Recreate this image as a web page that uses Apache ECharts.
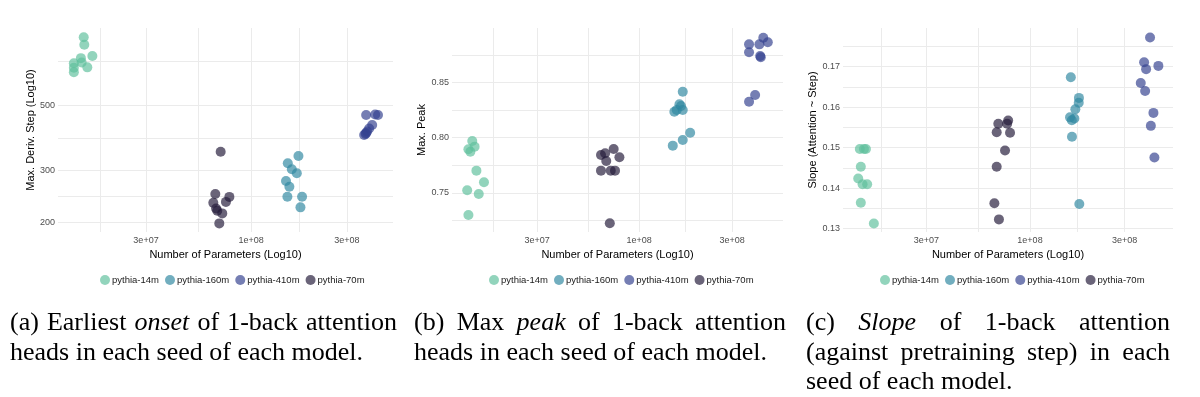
<!DOCTYPE html>
<html lang="en">
<head>
<meta charset="UTF-8">
<title>1-back attention heads per seed</title>
<script src="https://cdn.jsdelivr.net/npm/echarts@6/dist/echarts.min.js"></script>
<style>
    body {
        margin: 0;
        background: #fff;
    }

    #root {
        position: relative;
        width: 1200px;
        height: 397px;
    }

    #chart {
        position: absolute;
        left: 0;
        top: 0;
        width: 1200px;
        height: 397px;
    }

    .cap {
        position: absolute;
        top: 307px;
        font-family: "Liberation Serif", serif;
        font-size: 26px;
        line-height: 29.5px;
        color: #000;
    }

    .cap .j {
        text-align: justify;
        text-align-last: justify;
    }
</style>
</head>
<body>
<div id="root">
    <div id="chart"></div>
    <div class="cap" style="left:10px;width:387px">
        <div class="j">(a) Earliest <i>onset</i> of 1-back attention</div>
        <div>heads in each seed of each model.</div>
    </div>
    <div class="cap" style="left:414px;width:372px">
        <div class="j">(b) Max <i>peak</i> of 1-back attention</div>
        <div>heads in each seed of each model.</div>
    </div>
    <div class="cap" style="left:806px;width:364px">
        <div class="j">(c) <i>Slope</i> of 1-back attention</div>
        <div class="j">(against pretraining step) in each</div>
        <div>seed of each model.</div>
    </div>
</div>
<script>
    var modelNames = ['pythia-14m', 'pythia-160m', 'pythia-410m', 'pythia-70m'];
    var modelColors = ['#5fc09c', '#2f87a0', '#33418f', '#231a3a'];

    // (a) earliest onset: [number of parameters (jittered), max. deriv. step]
    var onset14m = [[1.469e7, 849], [1.479e7, 800], [1.622e7, 733], [1.422e7, 721], [1.312e7, 693],
        [1.435e7, 697], [1.531e7, 671], [1.312e7, 669], [1.312e7, 646]];
    var onset160m = [[1.722e8, 336], [1.524e8, 317.5], [1.596e8, 302.9], [1.690e8, 293.7], [1.493e8, 276.5],
        [1.552e8, 264.5], [1.517e8, 244.6], [1.795e8, 244.6], [1.762e8, 225.2]];
    var onset410m = [[3.741e8, 463], [4.150e8, 464.8], [4.285e8, 463], [4.009e8, 428], [3.873e8, 416.6],
        [3.784e8, 406.8], [3.715e8, 399], [3.656e8, 396], [3.741e8, 402]];
    var onset70m = [[7.06e7, 347.5], [6.64e7, 249.8], [7.80e7, 244.3], [6.49e7, 233.2], [7.50e7, 235],
        [6.70e7, 223.3], [6.79e7, 219.3], [7.19e7, 214.8], [6.95e7, 198.7]];

    // (b) max peak
    var peak14m = [[1.396e7, 0.797], [1.334e7, 0.7895], [1.365e7, 0.7873], [1.435e7, 0.7919], [1.466e7, 0.7702],
        [1.603e7, 0.7597], [1.315e7, 0.7524], [1.507e7, 0.7491], [1.334e7, 0.7301]];
    var peak160m = [[1.675e8, 0.8416], [1.611e8, 0.8302], [1.641e8, 0.8287], [1.560e8, 0.825], [1.675e8, 0.825],
        [1.517e8, 0.8235], [1.828e8, 0.8045], [1.675e8, 0.7979], [1.489e8, 0.7928]];
    var peak410m = [[4.335e8, 0.8904], [3.664e8, 0.8844], [4.140e8, 0.8844], [4.571e8, 0.8863], [3.664e8, 0.8772],
        [4.178e8, 0.8739], [4.207e8, 0.8727], [3.936e8, 0.8386], [3.664e8, 0.8325]];
    var peak70m = [[6.38e7, 0.7844], [6.70e7, 0.7859], [7.41e7, 0.7898], [7.93e7, 0.7823], [6.79e7, 0.7789],
        [6.38e7, 0.7702], [7.16e7, 0.7702], [7.53e7, 0.7702], [7.08e7, 0.7226]];

    // (c) slope of attention against step
    var slope14m = [[1.384e7, 0.1497], [1.452e7, 0.1497], [1.486e7, 0.1497], [1.400e7, 0.1453], [1.358e7, 0.1424],
        [1.429e7, 0.1410], [1.507e7, 0.1410], [1.400e7, 0.1364], [1.629e7, 0.1313]];
    var slope160m = [[1.607e8, 0.1674], [1.766e8, 0.1623], [1.762e8, 0.1611], [1.694e8, 0.1595], [1.592e8, 0.1575],
        [1.675e8, 0.1572], [1.626e8, 0.1568], [1.629e8, 0.1527], [1.774e8, 0.1361]];
    var slope410m = [[4.036e8, 0.1772], [3.767e8, 0.1711], [3.855e8, 0.1694], [4.446e8, 0.1702], [3.622e8, 0.1660],
        [3.811e8, 0.1640], [4.198e8, 0.1586], [4.074e8, 0.1554], [4.246e8, 0.1476]];
    var slope70m = [[6.92e7, 0.1559], [7.76e7, 0.1567], [7.67e7, 0.1559], [6.79e7, 0.1538], [7.93e7, 0.1537],
        [7.48e7, 0.1493], [6.79e7, 0.1453], [6.61e7, 0.1363], [6.97e7, 0.1323]];

    // tick labels and grid breaks
    var xMajorTicks = [3e7, 1e8, 3e8];
    var xMinorTicks = [1.78e7, 5.48e7, 1.734e8];
    var onsetMajorTicks = [200, 300, 500];
    var onsetMinorTicks = [246, 387, 705];
    var peakMajorTicks = [0.75, 0.80, 0.85];
    var peakMinorTicks = [0.725, 0.775, 0.825, 0.875];
    var slopeMajorTicks = [0.13, 0.14, 0.15, 0.16, 0.17];
    var slopeMinorTicks = [0.135, 0.145, 0.155, 0.165, 0.175];

    var sans = 'Liberation Sans';
    var gridColor = '#ebebeb';

    function log10(v) { return Math.log10(v); }

    function sci(v) {
        var raw = Math.pow(10, v);
        var e = Math.floor(Math.log10(raw) + 1e-9);
        var m = Math.round(raw / Math.pow(10, e));
        return m + 'e+' + (e < 10 ? '0' + e : e);
    }

    function xAxis(gridIndex, range) {
        return {
            type: 'value',
            gridIndex: gridIndex,
            min: log10(range[0]),
            max: log10(range[1]),
            name: 'Number of Parameters (Log10)',
            nameLocation: 'middle',
            nameGap: 14,
            nameTextStyle: { fontFamily: sans, fontSize: 11, color: '#000' },
            axisLine: { show: false },
            axisTick: { show: false, customValues: xMajorTicks.concat(xMinorTicks).map(log10) },
            splitLine: { show: true, lineStyle: { color: gridColor, width: 1 } },
            axisLabel: {
                customValues: xMajorTicks.map(log10),
                formatter: sci,
                margin: 4,
                fontFamily: sans, fontSize: 9, color: '#4d4d4d'
            }
        };
    }

    function yAxis(gridIndex, name, nameGap, range, major, minor, isLog, fmt) {
        var tr = isLog ? log10 : function (v) { return v; };
        return {
            type: 'value',
            gridIndex: gridIndex,
            min: tr(range[0]),
            max: tr(range[1]),
            name: name,
            nameLocation: 'middle',
            nameGap: nameGap,
            nameTextStyle: { fontFamily: sans, fontSize: 11, color: '#000' },
            axisLine: { show: false },
            axisTick: { show: false, customValues: major.concat(minor).map(tr) },
            splitLine: { show: true, lineStyle: { color: gridColor, width: 1 } },
            axisLabel: {
                customValues: major.map(tr),
                formatter: fmt,
                margin: 3,
                fontFamily: sans, fontSize: 9, color: '#4d4d4d'
            }
        };
    }

    function panelSeries(idx, sets, logY) {
        return sets.map(function (pts, i) {
            return {
                name: modelNames[i],
                type: 'scatter',
                xAxisIndex: idx,
                yAxisIndex: idx,
                symbolSize: 10,
                itemStyle: { color: modelColors[i], opacity: 0.68 },
                emphasis: { disabled: true },
                data: pts.map(function (p) {
                    return [log10(p[0]), logY ? log10(p[1]) : p[1]];
                })
            };
        });
    }

    function legend(left) {
        return {
            left: left,
            top: 270,
            icon: 'circle',
            itemWidth: 10,
            itemHeight: 10,
            itemGap: 6,
            data: modelNames,
            textStyle: { fontFamily: sans, fontSize: 9.5, color: '#1a1a1a', padding: [0, 0, 0, -3] }
        };
    }

    var chart = echarts.init(document.getElementById('chart'), null, { renderer: 'canvas' });

    chart.setOption({
        backgroundColor: '#fff',
        animation: false,
        color: modelColors,
        legend: [legend(95), legend(484), legend(875)],
        grid: [
            { left: 58, top: 28, width: 335, height: 204 },
            { left: 452, top: 28, width: 331, height: 204 },
            { left: 843, top: 28, width: 330, height: 204 }
        ],
        xAxis: [
            xAxis(0, [1.094e7, 5.09e8]),
            xAxis(1, [1.099e7, 5.47e8]),
            xAxis(2, [1.138e7, 5.27e8])
        ],
        yAxis: [
            yAxis(0, 'Max. Deriv. Step (Log10)', 20, [185.8, 912], onsetMajorTicks, onsetMinorTicks, true,
                function (v) { return String(Math.round(Math.pow(10, v))); }),
            yAxis(1, 'Max. Peak', 23, [0.7147, 0.8992], peakMajorTicks, peakMinorTicks, false,
                function (v) { return v.toFixed(2); }),
            yAxis(2, 'Slope (Attention ~ Step)', 22, [0.12919, 0.17956], slopeMajorTicks, slopeMinorTicks, false,
                function (v) { return v.toFixed(2); })
        ],
        series: [].concat(
            panelSeries(0, [onset14m, onset160m, onset410m, onset70m], true),
            panelSeries(1, [peak14m, peak160m, peak410m, peak70m], false),
            panelSeries(2, [slope14m, slope160m, slope410m, slope70m], false)
        )
    });
</script>
</body>
</html>
